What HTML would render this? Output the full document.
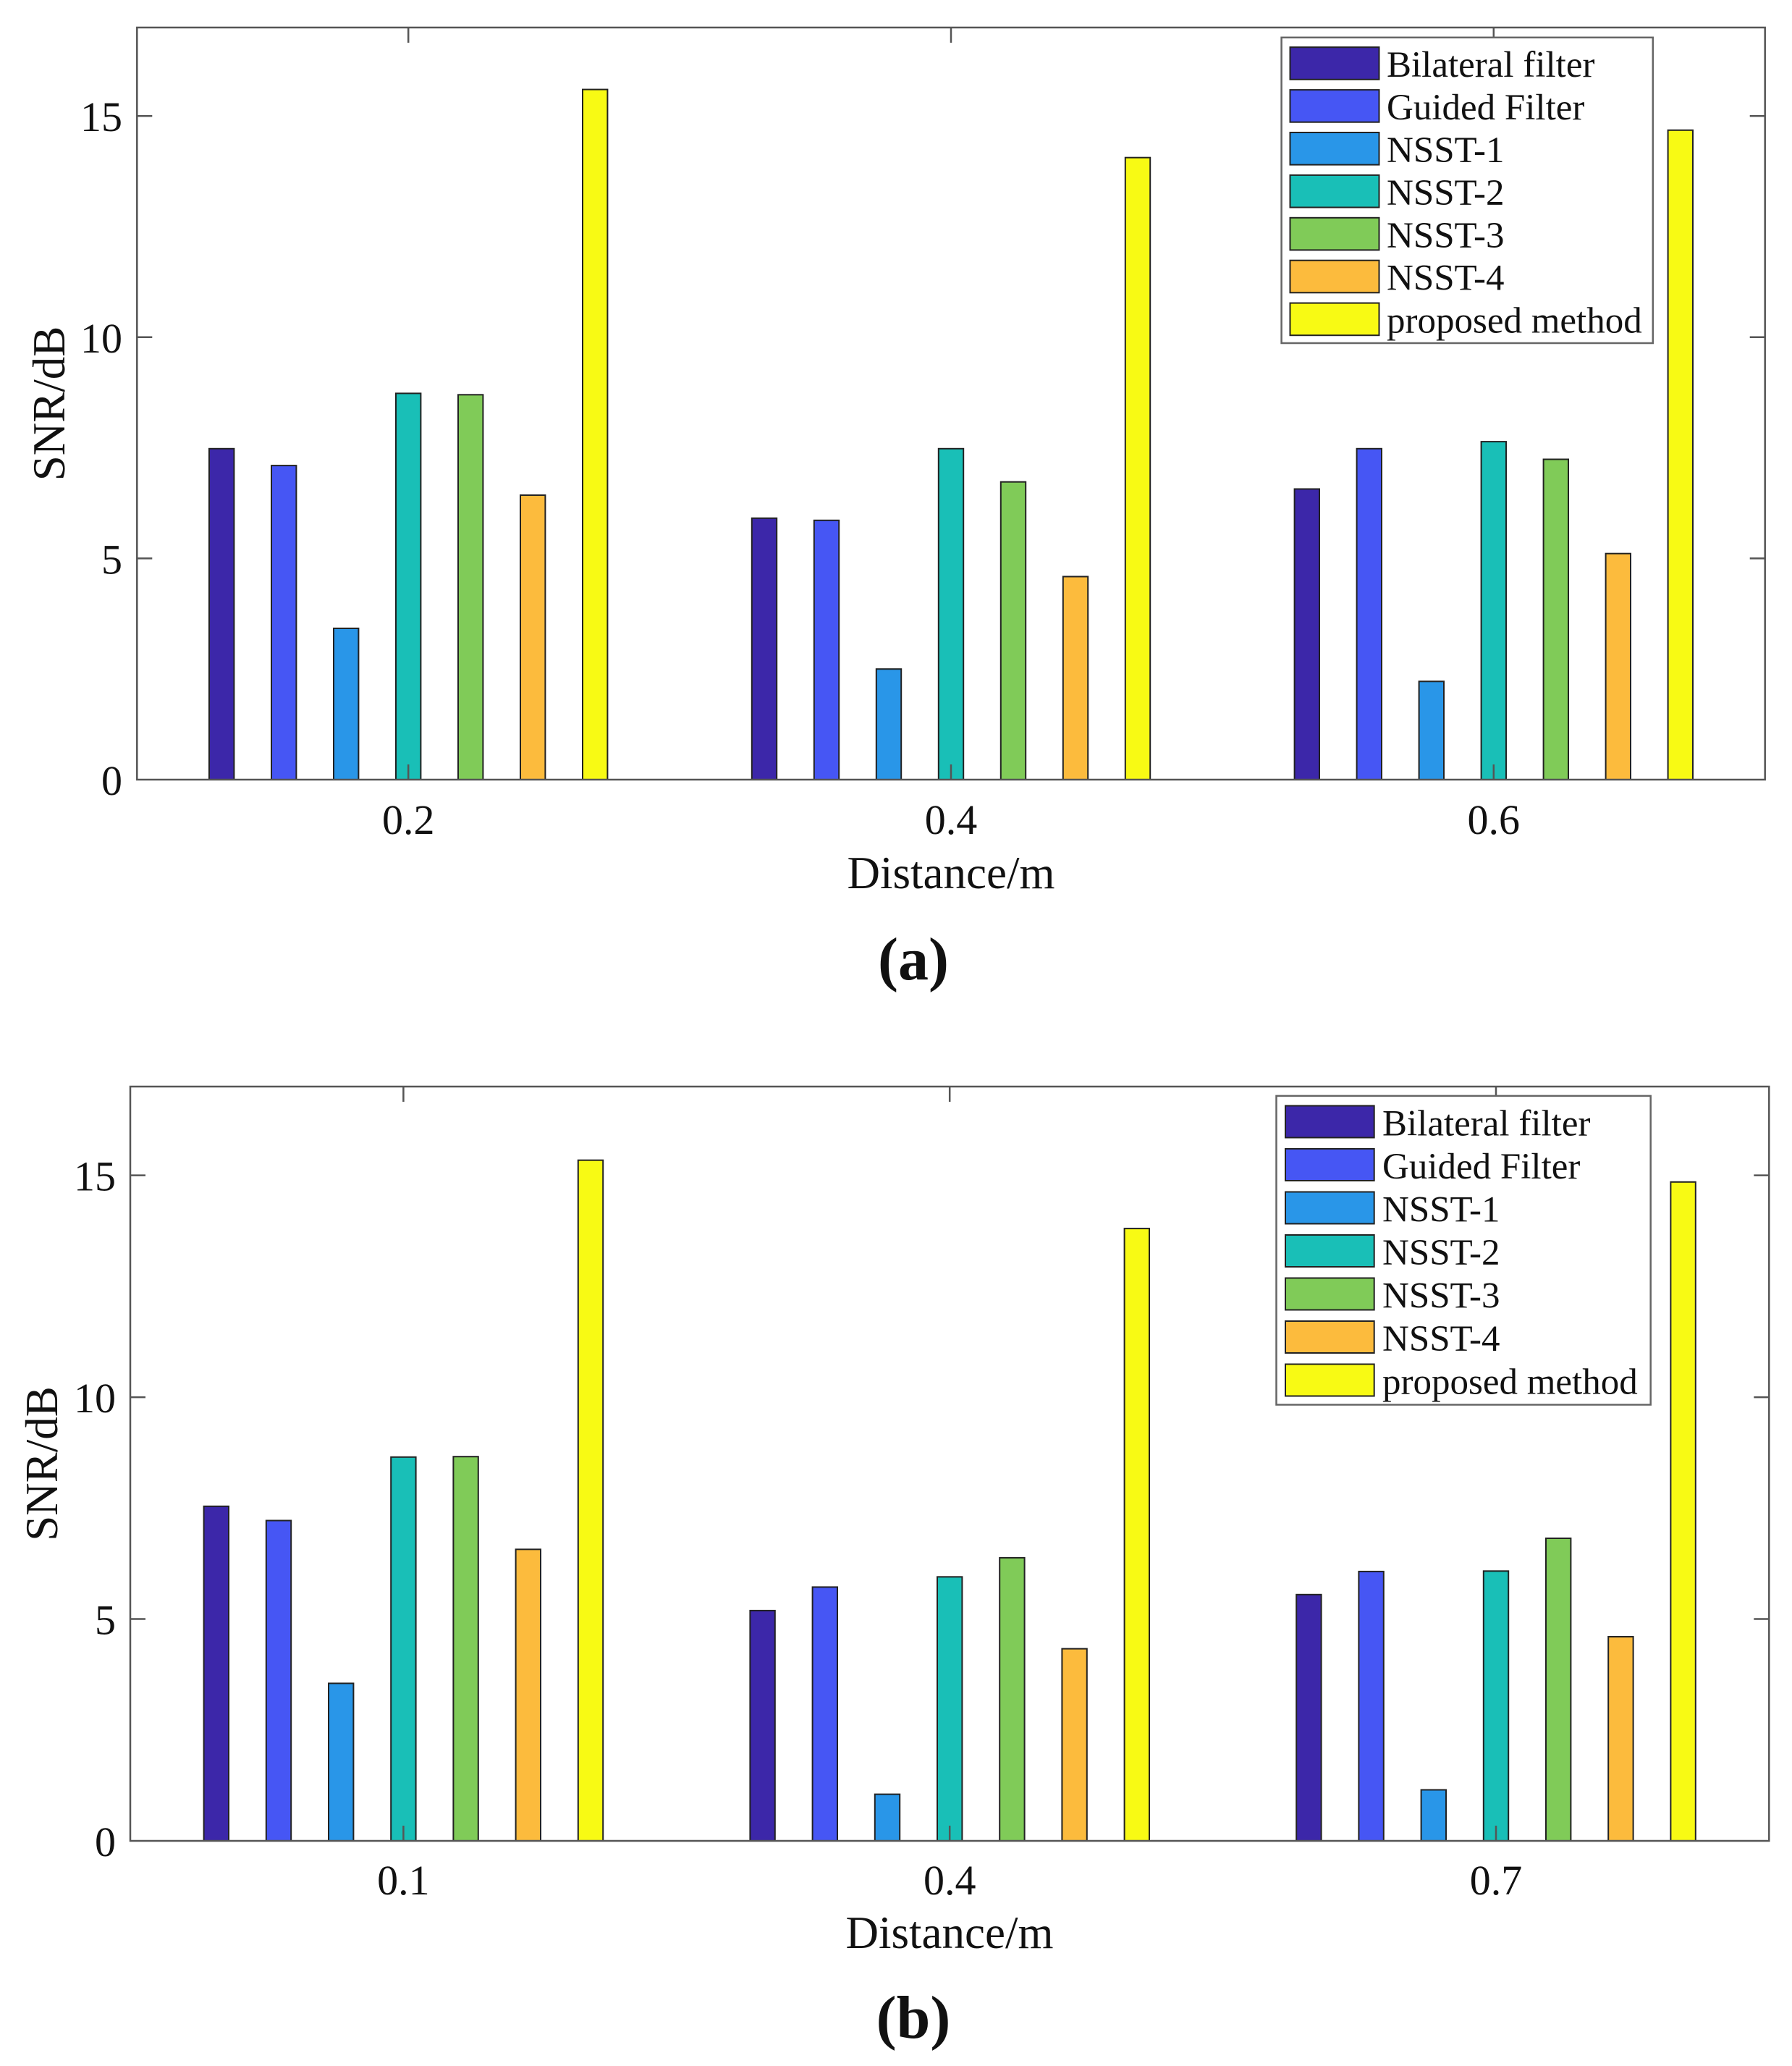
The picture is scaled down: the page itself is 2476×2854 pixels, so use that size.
<!DOCTYPE html>
<html>
<head>
<meta charset="utf-8">
<style>
html,body{margin:0;padding:0;background:#fff;}
svg{display:block;}
text{font-family:"Liberation Serif","Times New Roman",serif;fill:#111;}
</style>
</head>
<body>
<svg width="2476" height="2854" viewBox="0 0 2476 2854" xmlns="http://www.w3.org/2000/svg">
<rect x="0" y="0" width="2476" height="2854" fill="#fff"/>

<!-- ================= Chart (a) ================= -->
<g stroke="#222" stroke-width="2">
<rect x="289.0" y="619.8" width="34.4" height="457.2" fill="#3c27a9"/>
<rect x="375.0" y="643.1" width="34.4" height="433.9" fill="#4656f4"/>
<rect x="461.0" y="868.0" width="34.4" height="209.0" fill="#2996e8"/>
<rect x="547.0" y="543.4" width="34.4" height="533.6" fill="#19bfb7"/>
<rect x="633.0" y="545.3" width="34.4" height="531.7" fill="#80cb58"/>
<rect x="719.0" y="684.0" width="34.4" height="393.0" fill="#fcbb3d"/>
<rect x="805.0" y="123.6" width="34.4" height="953.4" fill="#f8fa14"/>
<rect x="1038.8" y="715.8" width="34.4" height="361.2" fill="#3c27a9"/>
<rect x="1124.8" y="718.8" width="34.4" height="358.2" fill="#4656f4"/>
<rect x="1210.8" y="924.2" width="34.4" height="152.8" fill="#2996e8"/>
<rect x="1296.8" y="619.8" width="34.4" height="457.2" fill="#19bfb7"/>
<rect x="1382.8" y="665.7" width="34.4" height="411.3" fill="#80cb58"/>
<rect x="1468.8" y="796.5" width="34.4" height="280.5" fill="#fcbb3d"/>
<rect x="1554.8" y="217.7" width="34.4" height="859.3" fill="#f8fa14"/>
<rect x="1788.6" y="675.5" width="34.4" height="401.5" fill="#3c27a9"/>
<rect x="1874.6" y="619.8" width="34.4" height="457.2" fill="#4656f4"/>
<rect x="1960.6" y="941.3" width="34.4" height="135.7" fill="#2996e8"/>
<rect x="2046.6" y="610.1" width="34.4" height="466.9" fill="#19bfb7"/>
<rect x="2132.6" y="634.5" width="34.4" height="442.5" fill="#80cb58"/>
<rect x="2218.6" y="764.7" width="34.4" height="312.3" fill="#fcbb3d"/>
<rect x="2304.6" y="179.8" width="34.4" height="897.2" fill="#f8fa14"/>
</g>

<rect x="189.3" y="38" width="2249.4" height="1039" fill="none" stroke="#555" stroke-width="2.5"/>
<g stroke="#555" stroke-width="2.5">
<line x1="189.3" y1="771.4" x2="210.3" y2="771.4"/>
<line x1="189.3" y1="465.8" x2="210.3" y2="465.8"/>
<line x1="189.3" y1="160.2" x2="210.3" y2="160.2"/>
<line x1="2438.7" y1="771.4" x2="2417.7" y2="771.4"/>
<line x1="2438.7" y1="465.8" x2="2417.7" y2="465.8"/>
<line x1="2438.7" y1="160.2" x2="2417.7" y2="160.2"/>
<line x1="564.2" y1="1077" x2="564.2" y2="1056"/>
<line x1="1314.0" y1="1077" x2="1314.0" y2="1056"/>
<line x1="2063.8" y1="1077" x2="2063.8" y2="1056"/>
<line x1="564.2" y1="38" x2="564.2" y2="59"/>
<line x1="1314.0" y1="38" x2="1314.0" y2="59"/>
<line x1="2063.8" y1="38" x2="2063.8" y2="59"/>
</g>

<g font-size="58" text-anchor="end">
<text x="169" y="1098">0</text>
<text x="169" y="792.4">5</text>
<text x="169" y="486.8">10</text>
<text x="169" y="181.2">15</text>
</g>
<g font-size="58" text-anchor="middle">
<text x="564.2" y="1152">0.2</text>
<text x="1314.0" y="1152">0.4</text>
<text x="2063.8" y="1152">0.6</text>
</g>
<text x="1314" y="1227" font-size="63" text-anchor="middle">Distance/m</text>
<text transform="translate(89,557.5) rotate(-90)" font-size="63" text-anchor="middle">SNR/dB</text>
<text x="1262" y="1353" font-size="84" font-weight="bold" text-anchor="middle">(a)</text>

<rect x="1770.6" y="51.8" width="513.2" height="422.2" fill="#fff" stroke="#666" stroke-width="2.5"/>
<g stroke="#222" stroke-width="2">
<rect x="1782.5" y="65.2" width="123" height="44.6" fill="#3c27a9"/>
<rect x="1782.5" y="124.1" width="123" height="44.6" fill="#4656f4"/>
<rect x="1782.5" y="183.0" width="123" height="44.6" fill="#2996e8"/>
<rect x="1782.5" y="241.9" width="123" height="44.6" fill="#19bfb7"/>
<rect x="1782.5" y="300.8" width="123" height="44.6" fill="#80cb58"/>
<rect x="1782.5" y="359.7" width="123" height="44.6" fill="#fcbb3d"/>
<rect x="1782.5" y="418.6" width="123" height="44.6" fill="#f8fa14"/>
</g>
<g font-size="51">
<text x="1916" y="106.2">Bilateral filter</text>
<text x="1916" y="165.1">Guided Filter</text>
<text x="1916" y="224.0">NSST-1</text>
<text x="1916" y="282.9">NSST-2</text>
<text x="1916" y="341.8">NSST-3</text>
<text x="1916" y="400.7">NSST-4</text>
<text x="1916" y="459.6">proposed method</text>
</g>

<!-- ================= Chart (b) ================= -->
<g stroke="#222" stroke-width="2">
<rect x="281.6" y="2080.8" width="34.4" height="462.2" fill="#3c27a9"/>
<rect x="367.8" y="2100.5" width="34.4" height="442.5" fill="#4656f4"/>
<rect x="454.0" y="2325.4" width="34.4" height="217.6" fill="#2996e8"/>
<rect x="540.2" y="2012.8" width="34.4" height="530.2" fill="#19bfb7"/>
<rect x="626.4" y="2012.2" width="34.4" height="530.8" fill="#80cb58"/>
<rect x="712.6" y="2140.3" width="34.4" height="402.7" fill="#fcbb3d"/>
<rect x="798.8" y="1602.7" width="34.4" height="940.3" fill="#f8fa14"/>
<rect x="1036.4" y="2224.9" width="34.4" height="318.1" fill="#3c27a9"/>
<rect x="1122.6" y="2192.4" width="34.4" height="350.6" fill="#4656f4"/>
<rect x="1208.8" y="2478.6" width="34.4" height="64.4" fill="#2996e8"/>
<rect x="1295.0" y="2178.3" width="34.4" height="364.7" fill="#19bfb7"/>
<rect x="1381.2" y="2151.9" width="34.4" height="391.1" fill="#80cb58"/>
<rect x="1467.4" y="2277.6" width="34.4" height="265.4" fill="#fcbb3d"/>
<rect x="1553.6" y="1697.1" width="34.4" height="845.9" fill="#f8fa14"/>
<rect x="1791.2" y="2202.8" width="34.4" height="340.2" fill="#3c27a9"/>
<rect x="1877.4" y="2170.9" width="34.4" height="372.1" fill="#4656f4"/>
<rect x="1963.6" y="2472.5" width="34.4" height="70.5" fill="#2996e8"/>
<rect x="2049.8" y="2170.3" width="34.4" height="372.7" fill="#19bfb7"/>
<rect x="2136.0" y="2125.0" width="34.4" height="418.0" fill="#80cb58"/>
<rect x="2222.2" y="2261.0" width="34.4" height="282.0" fill="#fcbb3d"/>
<rect x="2308.4" y="1632.8" width="34.4" height="910.2" fill="#f8fa14"/>
</g>

<rect x="180" y="1501" width="2264.3" height="1042" fill="none" stroke="#555" stroke-width="2.5"/>
<g stroke="#555" stroke-width="2.5">
<line x1="180" y1="2236.5" x2="201" y2="2236.5"/>
<line x1="180" y1="1930.1" x2="201" y2="1930.1"/>
<line x1="180" y1="1623.6" x2="201" y2="1623.6"/>
<line x1="2444.3" y1="2236.5" x2="2423.3" y2="2236.5"/>
<line x1="2444.3" y1="1930.1" x2="2423.3" y2="1930.1"/>
<line x1="2444.3" y1="1623.6" x2="2423.3" y2="1623.6"/>
<line x1="557.4" y1="2543" x2="557.4" y2="2522"/>
<line x1="1312.2" y1="2543" x2="1312.2" y2="2522"/>
<line x1="2067.0" y1="2543" x2="2067.0" y2="2522"/>
<line x1="557.4" y1="1501" x2="557.4" y2="1522"/>
<line x1="1312.2" y1="1501" x2="1312.2" y2="1522"/>
<line x1="2067.0" y1="1501" x2="2067.0" y2="1522"/>
</g>

<g font-size="58" text-anchor="end">
<text x="160" y="2564">0</text>
<text x="160" y="2257.5">5</text>
<text x="160" y="1951.1">10</text>
<text x="160" y="1644.6">15</text>
</g>
<g font-size="58" text-anchor="middle">
<text x="557.4" y="2617">0.1</text>
<text x="1312.2" y="2617">0.4</text>
<text x="2067.0" y="2617">0.7</text>
</g>
<text x="1312" y="2691" font-size="63" text-anchor="middle">Distance/m</text>
<text transform="translate(79,2022) rotate(-90)" font-size="63" text-anchor="middle">SNR/dB</text>
<text x="1262" y="2815" font-size="84" font-weight="bold" text-anchor="middle">(b)</text>

<rect x="1763.5" y="1513.9" width="517.2" height="426.6" fill="#fff" stroke="#666" stroke-width="2.5"/>
<g stroke="#222" stroke-width="2">
<rect x="1776" y="1527.5" width="122.7" height="44" fill="#3c27a9"/>
<rect x="1776" y="1587.0" width="122.7" height="44" fill="#4656f4"/>
<rect x="1776" y="1646.5" width="122.7" height="44" fill="#2996e8"/>
<rect x="1776" y="1706.0" width="122.7" height="44" fill="#19bfb7"/>
<rect x="1776" y="1765.5" width="122.7" height="44" fill="#80cb58"/>
<rect x="1776" y="1825.0" width="122.7" height="44" fill="#fcbb3d"/>
<rect x="1776" y="1884.5" width="122.7" height="44" fill="#f8fa14"/>
</g>
<g font-size="51">
<text x="1910" y="1568.5">Bilateral filter</text>
<text x="1910" y="1628.0">Guided Filter</text>
<text x="1910" y="1687.5">NSST-1</text>
<text x="1910" y="1747.0">NSST-2</text>
<text x="1910" y="1806.5">NSST-3</text>
<text x="1910" y="1866.0">NSST-4</text>
<text x="1910" y="1925.5">proposed method</text>
</g>
</svg>
</body>
</html>
